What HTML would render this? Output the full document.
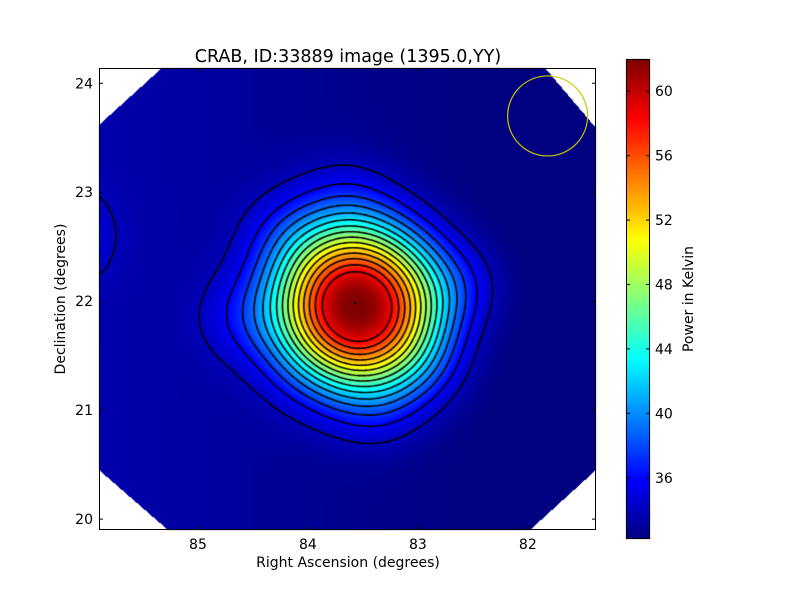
<!DOCTYPE html>
<html><head><meta charset="utf-8">
<style>
body{margin:0;background:#fff;font-family:"DejaVu Sans","Liberation Sans",sans-serif;}
#wrap{position:relative;width:800px;height:600px;background:#fff;}
canvas,svg{position:absolute;left:0;top:0;}
</style></head>
<body>
<div id="wrap">
<canvas id="cv" width="800" height="600"></canvas>
<svg id="sv" width="800" height="600" font-family="DejaVu Sans, Liberation Sans, sans-serif"></svg>
</div>
<script>
// data
const xTicks=[85,84,83,82];
const yTicks=[20,21,22,23,24];
const cbTicks=[36,40,44,48,52,56,60];
const contourLevels=[34,35.75,37.5,39.25,41,42.75,44.5,46.25,48,49.75,51.5,53.25,55,56.75,58.5];
const srcRA=[83.55,84.15,84.6,83.35,82.6,82.95,83.65,86.2];
const srcDec=[21.95,22.6,21.85,21.05,22.15,21.4,22.9,22.6];
const srcAmp=[29.4,2.0,1.8,1.6,1.8,1.6,1.6,2.1];
const srcSig=[0.545,0.3,0.28,0.3,0.28,0.28,0.3,0.28];
const background=32.6;
const vmin=32.2,vmax=62.0;

const PX0=99,PX1=596,PY0=68,PY1=530;
const RA0=85.9,RA1=81.38,DEC0=24.14,DEC1=19.9;
function xs(ra){return PX0+(RA0-ra)/(RA0-RA1)*(PX1-PX0);}
function ys(d){return PY0+(DEC0-d)/(DEC0-DEC1)*(PY1-PY0);}
function raAt(x){return RA0-(x-PX0)/(PX1-PX0)*(RA0-RA1);}
function decAt(y){return DEC0-(y-PY0)/(PY1-PY0)*(DEC0-DEC1);}
function field(ra,dec){
  let v=background+0.9*(ra-83.6)/2.3;
  for(let i=0;i<srcRA.length;i++){
    const dx=(ra-srcRA[i])/srcSig[i],dy=(dec-srcDec[i])/srcSig[i];
    const r2=dx*dx+dy*dy;
    const p=i===0?2.4:2;
    v+=srcAmp[i]*Math.exp(-0.5*Math.pow(r2,p/2));
  }
  return v;
}
function jet(t){
  t=Math.max(0,Math.min(1,t));
  const c=x=>Math.max(0,Math.min(1,x));
  return [c(1.5-Math.abs(4*t-3)),c(1.5-Math.abs(4*t-2)),c(1.5-Math.abs(4*t-1))].map(v=>Math.round(v*255));
}
function inMask(x,y){
  if((x-PX0)+(y-PY0)*(63/57)<63) return false;
  if((PX1-x)+(y-PY0)*(51/60)<51) return false;
  if((x-PX0)+(PY1-y)*(69/60)<69) return false;
  if((PX1-x)+(PY1-y)*(66/60)<66) return false;
  return true;
}
const cv=document.getElementById('cv'),ctx=cv.getContext('2d');
const W=PX1-PX0,H=PY1-PY0;
const img=ctx.createImageData(W,H);
for(let j=0;j<H;j++)for(let i=0;i<W;i++){
  const x=PX0+i+0.5,y=PY0+j+0.5,k=(j*W+i)*4;
  if(!inMask(x,y)){img.data[k]=255;img.data[k+1]=255;img.data[k+2]=255;img.data[k+3]=255;continue;}
  const c=jet((field(raAt(x),decAt(y))-vmin)/(vmax-vmin));
  img.data[k]=c[0];img.data[k+1]=c[1];img.data[k+2]=c[2];img.data[k+3]=255;
}
ctx.putImageData(img,PX0,PY0);
ctx.save();ctx.beginPath();ctx.rect(PX0,PY0,W,H);ctx.clip();
ctx.strokeStyle='#000';ctx.lineWidth=1.6;
const step=2,nx=Math.ceil(W/step)+1,ny=Math.ceil(H/step)+1;
const g=[];
for(let j=0;j<ny;j++){g[j]=[];for(let i=0;i<nx;i++)g[j][i]=field(raAt(PX0+i*step),decAt(PY0+j*step));}
contourLevels.forEach(L=>{
  ctx.beginPath();
  for(let j=0;j<ny-1;j++)for(let i=0;i<nx-1;i++){
    const a=g[j][i],b=g[j][i+1],c=g[j+1][i+1],d=g[j+1][i];
    const pts=[];
    const x0=PX0+i*step,y0=PY0+j*step;
    if((a<L)!=(b<L))pts.push([x0+step*(L-a)/(b-a),y0]);
    if((b<L)!=(c<L))pts.push([x0+step,y0+step*(L-b)/(c-b)]);
    if((d<L)!=(c<L))pts.push([x0+step*(L-d)/(c-d),y0+step]);
    if((a<L)!=(d<L))pts.push([x0,y0+step*(L-a)/(d-a)]);
    if(pts.length>=2){ctx.moveTo(pts[0][0],pts[0][1]);ctx.lineTo(pts[1][0],pts[1][1]);}
    if(pts.length==4){ctx.moveTo(pts[2][0],pts[2][1]);ctx.lineTo(pts[3][0],pts[3][1]);}
  }
  ctx.stroke();
});
ctx.restore();
const CBX=626,CBW=24,CBY0=59,CBY1=539;
for(let y=CBY0;y<CBY1;y++){
  const c=jet(1-(y-CBY0)/(CBY1-CBY0));
  ctx.fillStyle=`rgb(${c[0]},${c[1]},${c[2]})`;ctx.fillRect(CBX,y,CBW,1);
}
const sv=document.getElementById('sv'),NS='http://www.w3.org/2000/svg';
function el(t,a,txt){const e=document.createElementNS(NS,t);for(const k in a)e.setAttribute(k,a[k]);if(txt!=null)e.textContent=txt;sv.appendChild(e);return e;}
let e;
e=el('rect',{x:PX0+0.5,y:PY0+0.5,width:W-1,height:H-1,fill:'none',stroke:'#000','stroke-width':1});

e=el('circle',{cx:xs(81.82),cy:ys(23.7),r:40,fill:'none',stroke:'#c8c800','stroke-width':1.2});

e=el('circle',{cx:xs(83.57),cy:ys(21.98),r:1.2,fill:'#000'});

xTicks.forEach(v=>{
  const x=xs(v);
  e=el('path',{d:`M${x},${PY1}v-4M${x},${PY0}v4`,stroke:'#000'});
  
  e=el('text',{x:x,y:549,'text-anchor':'middle','font-size':14},String(v));
  
});
yTicks.forEach(v=>{
  const y=ys(v);
  e=el('path',{d:`M${PX0},${y}h4M${PX1},${y}h-4`,stroke:'#000'});
  
  e=el('text',{x:93,y:y+5,'text-anchor':'end','font-size':14},String(v));
  
});
e=el('rect',{x:CBX+0.5,y:CBY0+0.5,width:CBW-1,height:CBY1-CBY0-1,fill:'none',stroke:'#000'});

cbTicks.forEach(v=>{
  const y=CBY1-(v-vmin)/(vmax-vmin)*(CBY1-CBY0);
  e=el('path',{d:`M${CBX},${y}h4M${CBX+CBW},${y}h-4`,stroke:'#000'});
  
  e=el('text',{x:655,y:y+5,'font-size':14},String(v));
  
});
e=el('text',{x:348,y:62,'text-anchor':'middle','font-size':17.5},'CRAB, ID:33889 image (1395.0,YY)');

e=el('text',{x:348,y:567,'text-anchor':'middle','font-size':14},'Right Ascension (degrees)');

e=el('text',{x:65,y:299,'text-anchor':'middle','font-size':14,transform:'rotate(-90 65 299)'},'Declination (degrees)');

e=el('text',{x:693,y:299,'text-anchor':'middle','font-size':14,transform:'rotate(-90 693 299)'},'Power in Kelvin');

</script>
</body></html>
